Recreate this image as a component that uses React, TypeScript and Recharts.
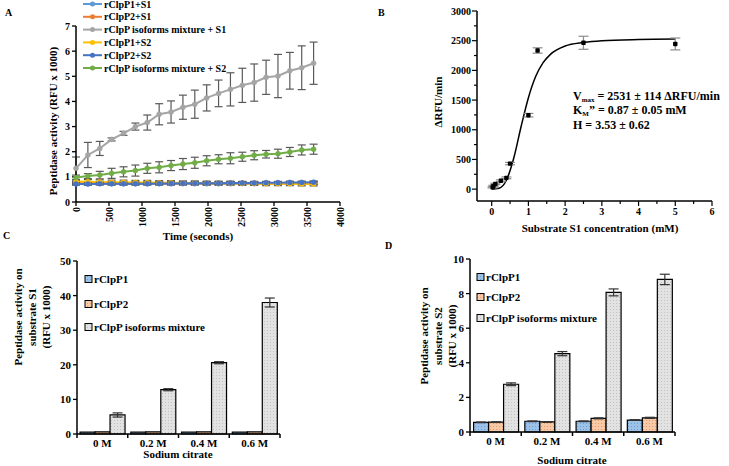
import React from 'react';
import { LineChart, Line, XAxis, YAxis, ErrorBar, ComposedChart, Scatter, BarChart, Bar } from 'recharts';

const FONT = '"Liberation Serif", "Times New Roman", serif';

// ---------- Panel A data ----------
const timeSec = [0, 180, 360, 540, 720, 900, 1080, 1260, 1440, 1620, 1800, 1980, 2160, 2340, 2520, 2700, 2880, 3060, 3240, 3420, 3600];
const p1s1 = [0.74, 0.73, 0.74, 0.73, 0.73, 0.73, 0.73, 0.73, 0.73, 0.73, 0.73, 0.73, 0.73, 0.73, 0.74, 0.73, 0.74, 0.74, 0.74, 0.74, 0.74];
const p1s1Err = [0.05, 0.05, 0.05, 0.05, 0.05, 0.05, 0.05, 0.05, 0.05, 0.05, 0.05, 0.05, 0.05, 0.05, 0.05, 0.05, 0.05, 0.05, 0.05, 0.05, 0.05];
const p2s1 = [0.76, 0.75, 0.75, 0.75, 0.75, 0.75, 0.75, 0.75, 0.75, 0.75, 0.75, 0.75, 0.75, 0.75, 0.75, 0.75, 0.75, 0.75, 0.75, 0.75, 0.75];
const p2s1Err = [0.06, 0.06, 0.06, 0.06, 0.06, 0.06, 0.06, 0.06, 0.06, 0.06, 0.06, 0.06, 0.06, 0.06, 0.06, 0.06, 0.06, 0.06, 0.06, 0.06, 0.06];
const mixS1 = [1.34, 1.87, 2.13, 2.49, 2.73, 3.0, 3.16, 3.49, 3.58, 3.77, 3.89, 4.14, 4.32, 4.48, 4.64, 4.75, 4.96, 5.01, 5.22, 5.34, 5.52];
const mixS1Err = [0.45, 0.5, 0.28, 0.06, 0.08, 0.14, 0.3, 0.42, 0.44, 0.48, 0.56, 0.52, 0.53, 0.66, 0.68, 0.74, 0.68, 0.86, 0.73, 0.87, 0.84];
const p1s2 = [0.82, 0.81, 0.8, 0.79, 0.79, 0.78, 0.78, 0.77, 0.77, 0.76, 0.76, 0.75, 0.75, 0.75, 0.74, 0.74, 0.73, 0.73, 0.73, 0.72, 0.72];
const p1s2Err = [0.08, 0.08, 0.08, 0.08, 0.08, 0.08, 0.08, 0.08, 0.08, 0.08, 0.08, 0.08, 0.08, 0.08, 0.08, 0.08, 0.08, 0.08, 0.08, 0.08, 0.08];
const p2s2 = [0.72, 0.72, 0.73, 0.73, 0.73, 0.73, 0.73, 0.74, 0.74, 0.75, 0.75, 0.75, 0.75, 0.76, 0.76, 0.76, 0.77, 0.77, 0.78, 0.78, 0.79];
const p2s2Err = [0.05, 0.05, 0.05, 0.05, 0.05, 0.05, 0.05, 0.05, 0.05, 0.05, 0.05, 0.05, 0.05, 0.05, 0.05, 0.05, 0.05, 0.05, 0.05, 0.05, 0.05];
const mixS2 = [0.97, 1.03, 1.07, 1.14, 1.2, 1.25, 1.34, 1.38, 1.45, 1.51, 1.56, 1.64, 1.7, 1.74, 1.8, 1.86, 1.9, 1.92, 1.99, 2.07, 2.1];
const mixS2Err = [0.1, 0.1, 0.15, 0.2, 0.2, 0.22, 0.2, 0.22, 0.2, 0.22, 0.22, 0.2, 0.18, 0.22, 0.18, 0.18, 0.15, 0.18, 0.18, 0.2, 0.2];
const aSeriesNames = ['rClpP1+S1', 'rClpP2+S1', 'rClpP isoforms mixture + S1', 'rClpP1+S2', 'rClpP2+S2', 'rClpP isoforms mixture + S2'];
const aXTicks = [0, 500, 1000, 1500, 2000, 2500, 3000, 3500, 4000];
const aYTicks = [0, 1, 2, 3, 4, 5, 6, 7];

// ---------- Panel B data ----------
const bConc = [0.025, 0.05, 0.1, 0.25, 0.4, 0.5, 1.0, 1.25, 2.5, 5.0];
const bRate = [30, 55, 88, 140, 190, 430, 1245, 2335, 2465, 2445];
const bRateErr = [10, 10, 12, 15, 15, 20, 30, 45, 110, 100];
const bFitConc = [0, 0.2, 0.4, 0.6, 0.8, 1.0, 1.2, 1.4, 1.6, 2.0, 2.5, 3.0, 4.0, 5.0];
const bFitRate = [0, 15, 150, 520, 1050, 1540, 1900, 2130, 2270, 2410, 2470, 2500, 2520, 2527];
const bXTicks = [0, 0.5, 1, 1.5, 2, 2.5, 3, 3.5, 4, 4.5, 5, 5.5, 6];
const bYTicks = [0, 250, 500, 750, 1000, 1250, 1500, 1750, 2000, 2250, 2500, 2750, 3000];

// ---------- Panel C / D data ----------
const citrateCats = ['0 M', '0.2 M', '0.4 M', '0.6 M'];
const barNames = ['rClpP1', 'rClpP2', 'rClpP isoforms mixture'];
const cP1 = [0.55, 0.55, 0.55, 0.55];
const cP2 = [0.6, 0.6, 0.6, 0.6];
const cMix = [5.5, 12.8, 20.6, 38.0];
const cMixErr = [0.6, 0.3, 0.3, 1.3];
const cYTicks = [0, 10, 20, 30, 40, 50];
const dP1 = [0.56, 0.62, 0.62, 0.69];
const dP1Err = [0.02, 0.02, 0.02, 0.02];
const dP2 = [0.57, 0.58, 0.79, 0.82];
const dP2Err = [0.02, 0.02, 0.03, 0.03];
const dMix = [2.76, 4.53, 8.07, 8.82];
const dMixErr = [0.08, 0.12, 0.2, 0.3];
const dYTicks = [0, 2, 4, 6, 8, 10];

// ---------- styles ----------
const aColors = ['#5b9bd5', '#ed7d31', '#a5a5a5', '#ffc000', '#4472c4', '#70ad47'];
const barFills = ['url(#patBlue)', 'url(#patOrange)', 'url(#patGrey)'];

const aData = timeSec.map((t, i) => ({
  t,
  s0: p1s1[i], e0: p1s1Err[i],
  s1: p2s1[i], e1: p2s1Err[i],
  s2: mixS1[i], e2: mixS1Err[i],
  s3: p1s2[i], e3: p1s2Err[i],
  s4: p2s2[i], e4: p2s2Err[i],
  s5: mixS2[i], e5: mixS2Err[i],
}));
const bPoints = bConc.map((x, i) => ({ x, y: bRate[i], err: bRateErr[i] }));
const bFit = bFitConc.map((x, i) => ({ x, y: bFitRate[i] }));
const cData = citrateCats.map((cat, i) => ({ cat, v0: cP1[i], v1: cP2[i], v2: cMix[i], e0: 0, e1: 0, e2: cMixErr[i] }));
const dData = citrateCats.map((cat, i) => ({ cat, v0: dP1[i], v1: dP2[i], v2: dMix[i], e0: dP1Err[i], e1: dP2Err[i], e2: dMixErr[i] }));

const txt = { fontFamily: FONT, fontWeight: 700, fill: '#000' } as const;
const axisLine = { stroke: '#000', strokeWidth: 1.5 };

const AXTick = (props: any) => {
  const { x, y, payload } = props;
  const ay = y - 4;
  return (
    <g>
      <line x1={x} x2={x} y1={ay} y2={ay + 4} stroke="#000" strokeWidth={1.3} />
      <text x={x} y={ay + 5} dy="0.35em" transform={`rotate(-90, ${x}, ${ay + 5})`} textAnchor="end" fontSize={10} {...txt}>
        {payload.value}
      </text>
    </g>
  );
};

const BYTick = (props: any) => {
  const { x, y, payload } = props;
  const v = payload.value;
  const major = v % 500 === 0;
  const ax = x + 6;
  return (
    <g>
      <line x1={ax} x2={ax - (major ? 5 : 3)} y1={y} y2={y} stroke="#000" strokeWidth={1.2} />
      {major && (
        <text x={x} y={y} dy="0.35em" textAnchor="end" fontSize={10} {...txt}>{v}</text>
      )}
    </g>
  );
};

const BXTick = (props: any) => {
  const { x, y, payload } = props;
  const v = payload.value;
  const major = Number.isInteger(v);
  const ay = y - 5;
  return (
    <g>
      <line x1={x} x2={x} y1={ay} y2={ay + (major ? 5 : 3)} stroke="#000" strokeWidth={1.2} />
      {major && (
        <text x={x} y={ay + 7} dy="0.71em" textAnchor="middle" fontSize={10} {...txt}>{v}</text>
      )}
    </g>
  );
};

const makeCatTick = (bw: number, n: number) => (props: any) => {
  const { x, y, payload, index } = props;
  const ay = y - 4;
  return (
    <g>
      <line x1={x - bw / 2} x2={x - bw / 2} y1={ay} y2={ay + 4} stroke="#000" strokeWidth={1.5} />
      {index === n - 1 && <line x1={x + bw / 2} x2={x + bw / 2} y1={ay} y2={ay + 4} stroke="#000" strokeWidth={1.5} />}
      <text x={x} y={y + 1} dy="0.71em" textAnchor="middle" fontSize={11} {...txt}>{payload.value}</text>
    </g>
  );
};

const SquareDot = (props: any) => {
  const { cx, cy } = props;
  if (cx == null || cy == null) return null;
  return <rect x={cx - 2.2} y={cy - 2.2} width={4.4} height={4.4} rx={0.8} fill="#000" />;
};

const Patterns = () => (
  <defs>
    <pattern id="patGrey" width="3" height="3" patternUnits="userSpaceOnUse">
      <rect width="3" height="3" fill="#e2e2e2" />
      <rect width="1" height="1" fill="#c2c2c2" />
    </pattern>
    <pattern id="patBlue" width="3" height="3" patternUnits="userSpaceOnUse">
      <rect width="3" height="3" fill="#9cc2e8" />
      <rect width="1" height="1" fill="#6d9ed4" />
    </pattern>
    <pattern id="patOrange" width="3" height="3" patternUnits="userSpaceOnUse">
      <rect width="3" height="3" fill="#f8c9a6" />
      <rect width="1" height="1" fill="#e49e6c" />
    </pattern>
  </defs>
);

const PanelA = () => (
  <LineChart width={360} height={240} data={aData} margin={{ top: 26, right: 20, left: 0, bottom: 0 }}>
    <XAxis dataKey="t" type="number" domain={[0, 4000]} ticks={aXTicks} interval={0} height={38}
      axisLine={axisLine} tickLine={false} tickSize={4} tickMargin={0} tick={<AXTick />} />
    <YAxis type="number" domain={[0, 7]} ticks={aYTicks} interval={0} width={76}
      axisLine={axisLine} tickLine={{ stroke: '#000', strokeWidth: 1.3 }} tickSize={4} tickMargin={2}
      tick={{ fontSize: 10, fontFamily: FONT, fontWeight: 700, fill: '#000' }} />
    {aColors.map((c, i) => (
      <Line key={i} dataKey={`s${i}`} name={aSeriesNames[i]} stroke={c} strokeWidth={2}
        dot={{ r: 2.5, fill: c, stroke: c, strokeWidth: 0.5 }} isAnimationActive={false}>
        <ErrorBar dataKey={`e${i}`} direction="y" width={4} stroke="#595959" strokeWidth={1.2} />
      </Line>
    ))}
  </LineChart>
);

const PanelB = () => (
  <ComposedChart width={359} height={240} margin={{ top: 11, right: 17, left: 0, bottom: 0 }}>
    <XAxis dataKey="x" type="number" domain={[-0.4, 6]} ticks={bXTicks} interval={0} height={39} allowDataOverflow
      axisLine={axisLine} tickLine={false} tickSize={5} tickMargin={0} tick={<BXTick />} />
    <YAxis dataKey="y" type="number" domain={[-200, 3000]} ticks={bYTicks} interval={0} width={107} allowDataOverflow
      axisLine={axisLine} tickLine={false} tickSize={5} tickMargin={1} tick={<BYTick />} />
    <Line data={bFit} dataKey="y" type="monotone" stroke="#000" strokeWidth={1.5} dot={false} isAnimationActive={false} />
    <Scatter data={bPoints} dataKey="y" fill="#000" shape={<SquareDot />} isAnimationActive={false}>
      <ErrorBar dataKey="err" direction="y" width={5} stroke="#8c8c8c" strokeWidth={1.2} />
    </Scatter>
  </ComposedChart>
);

const BarPanel = ({ data, yTicks, yMax, width, height, top, right, yWidth, xHeight, catW, gap }: any) => (
  <BarChart width={width} height={height} data={data} margin={{ top, right, left: 0, bottom: 0 }}
    barCategoryGap={gap} barGap={0}>
    <Patterns />
    <XAxis dataKey="cat" height={xHeight} interval={0} axisLine={axisLine} tickLine={false} tickSize={4} tickMargin={0}
      tick={makeCatTick(catW, data.length)} />
    <YAxis type="number" domain={[0, yMax]} ticks={yTicks} interval={0} width={yWidth}
      axisLine={axisLine} tickLine={{ stroke: '#000', strokeWidth: 1.3 }} tickSize={4} tickMargin={2}
      tick={{ fontSize: 11, fontFamily: FONT, fontWeight: 700, fill: '#000' }} />
    {barFills.map((f, i) => (
      <Bar key={i} dataKey={`v${i}`} name={barNames[i]} fill={f} stroke="#000" strokeWidth={1.2} isAnimationActive={false}>
        <ErrorBar dataKey={`e${i}`} direction="y" width={5} stroke="#333" strokeWidth={1.2} />
      </Bar>
    ))}
  </BarChart>
);

const LegendA = () => (
  <g>
    {aSeriesNames.map((n, i) => {
      const y = 4 + i * 12.8;
      return (
        <g key={n}>
          <line x1={83} x2={102} y1={y} y2={y} stroke={aColors[i]} strokeWidth={2} />
          <circle cx={92.5} cy={y} r={2.5} fill={aColors[i]} />
          <text x={104} y={y} dy="0.35em" fontSize={10} {...txt}>{n}</text>
        </g>
      );
    })}
  </g>
);

const BarLegend = ({ x, ys }: { x: number; ys: number[] }) => (
  <g>
    {barNames.map((n, i) => (
      <g key={n}>
        <rect x={x} y={ys[i] - 3.5} width={7} height={7} fill={barFills[i]} stroke="#000" strokeWidth={1} />
        <text x={x + 9} y={ys[i]} dy="0.35em" fontSize={11} {...txt}>{n}</text>
      </g>
    ))}
  </g>
);

export default function App() {
  return (
    <div style={{ position: 'absolute', left: 0, top: 0, width: 729, height: 466, background: '#fff', overflow: 'hidden' }}>
      <div style={{ position: 'absolute', left: 0, top: 0 }}><PanelA /></div>
      <div style={{ position: 'absolute', left: 370, top: 0 }}><PanelB /></div>
      <div style={{ position: 'absolute', left: 0, top: 240 }}>
        <BarPanel data={cData} yTicks={cYTicks} yMax={50} width={300} height={226} top={21} right={20}
          yWidth={77} xHeight={32} catW={203 / 4} gap="6%" />
      </div>
      <div style={{ position: 'absolute', left: 370, top: 240 }}>
        <BarPanel data={dData} yTicks={dYTicks} yMax={10} width={359} height={226} top={19} right={54}
          yWidth={100} xHeight={34} catW={205 / 4} gap="7%" />
      </div>
      <svg width={729} height={466} style={{ position: 'absolute', left: 0, top: 0, pointerEvents: 'none' }}>
        <Patterns />
        {/* panel letters */}
        <text x={5} y={16} fontSize={10} {...txt}>A</text>
        <text x={378} y={16} fontSize={10} {...txt}>B</text>
        <text x={3} y={239} fontSize={10} {...txt}>C</text>
        <text x={385} y={249} fontSize={10} {...txt}>D</text>
        {/* Panel A */}
        <LegendA />
        <text x={198} y={236} dy="0.35em" textAnchor="middle" fontSize={11} {...txt}>Time (seconds)</text>
        <text x={53} y={121} dy="0.35em" textAnchor="middle" transform="rotate(-90, 53, 121)" fontSize={11} {...txt}>Peptidase activity (RFU x 1000)</text>
        {/* Panel B */}
        <text x={438} y={102} dy="0.35em" textAnchor="middle" transform="rotate(-90, 438, 102)" fontSize={11} {...txt}>ΔRFU/min</text>
        <text x={600} y={228} dy="0.35em" textAnchor="middle" fontSize={11} {...txt}>Substrate S1 concentration (mM)</text>
        <text x={573} y={96} dy="0.35em" fontSize={12} {...txt}>
          V<tspan fontSize={7} dy={2}>max</tspan><tspan fontSize={12} dy={-2}> = 2531 ± 114 ΔRFU/min</tspan>
        </text>
        <text x={573} y={110} dy="0.35em" fontSize={12} {...txt}>
          K<tspan fontSize={7} dy={2}>M</tspan><tspan fontSize={12} dy={-2}>” = 0.87 ± 0.05 mM</tspan>
        </text>
        <text x={573} y={124.5} dy="0.35em" fontSize={12} {...txt}>H = 3.53 ± 0.62</text>
        {/* Panel C */}
        <BarLegend x={85} ys={[279, 304, 327]} />
        <text x={18} y={317} dy="0.35em" textAnchor="middle" transform="rotate(-90, 18, 317)" fontSize={11} {...txt}>Peptidase  activity on</text>
        <text x={32} y={317} dy="0.35em" textAnchor="middle" transform="rotate(-90, 32, 317)" fontSize={11} {...txt}>substrate S1</text>
        <text x={46} y={317} dy="0.35em" textAnchor="middle" transform="rotate(-90, 46, 317)" fontSize={11} {...txt}>(RFU x 1000)</text>
        <text x={178} y={454} dy="0.35em" textAnchor="middle" fontSize={11} {...txt}>Sodium  citrate</text>
        {/* Panel D */}
        <BarLegend x={477} ys={[277, 297, 318]} />
        <text x={424} y={336} dy="0.35em" textAnchor="middle" transform="rotate(-90, 424, 336)" fontSize={11} {...txt}>Peptidase  activity on</text>
        <text x={438} y={336} dy="0.35em" textAnchor="middle" transform="rotate(-90, 438, 336)" fontSize={11} {...txt}>substrate S2</text>
        <text x={452} y={336} dy="0.35em" textAnchor="middle" transform="rotate(-90, 452, 336)" fontSize={11} {...txt}>(RFU x 1000)</text>
        <text x={572} y={460} dy="0.35em" textAnchor="middle" fontSize={11} {...txt}>Sodium  citrate</text>
      </svg>
    </div>
  );
}
